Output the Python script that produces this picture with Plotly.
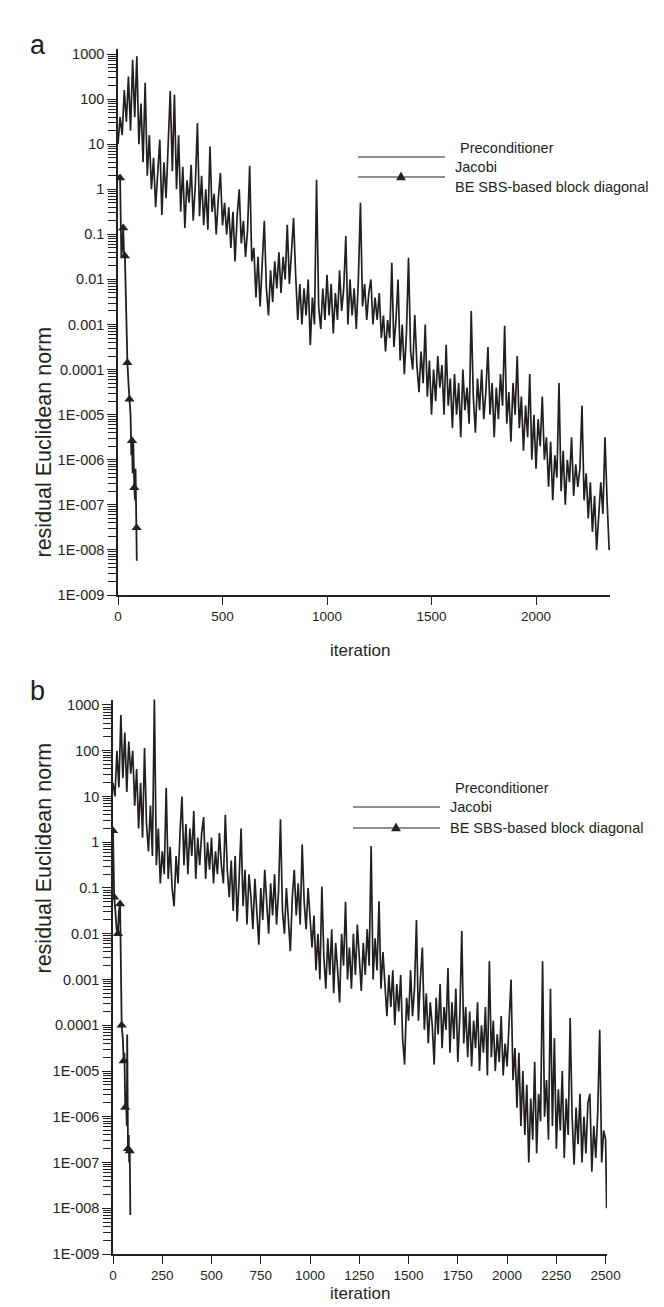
import plotly.graph_objects as go

# ---- data (residual norm given as log10) ----
y_tick_vals = [1e-9, 1e-8, 1e-7, 1e-6, 1e-5, 1e-4, 1e-3, 1e-2, 1e-1, 1, 10, 100, 1000]
y_tick_labels = ["1E-009", "1E-008", "1E-007", "1E-006", "1E-005", "0.0001", "0.001",
                 "0.01", "0.1", "1", "10", "100", "1000"]
x_ticks_a = [0, 500, 1000, 1500, 2000]
x_ticks_b = [0, 250, 500, 750, 1000, 1250, 1500, 1750, 2000, 2250, 2500]

# panel a, Jacobi, one value every 10 iterations
jacobi_a_iter = list(range(0, 2360, 10))
jacobi_a_log10 = [
    1.0, 1.6, 1.2, 2.2, 1.5, 2.5, 1.3, 2.87, 1.6, 2.95,            # 0
    1.0, 1.9, 0.6, 2.36, 0.3, 1.2, 0.0, 0.7, -0.4, 0.5,            # 100
    1.1, -0.57, 0.6, -0.2, 0.9, 2.18, 0.4, 2.1, 0.0, 1.2,          # 200
    -0.5, 0.5, -0.86, 0.2, -0.3, 0.54, -0.7, 0.1, 1.47, -0.6,      # 300
    0.3, -0.8, 0.0, -0.9, 0.95, -0.5, -0.1, -1.0, -0.2, 0.36,      # 400
    -0.8, -0.3, -1.0, -0.4, -1.3, -0.5, -1.6, -0.6, 0.0, -1.2,     # 500
    -0.7, -1.5, -0.9, 0.52, -1.6, -1.3, -2.4, -1.5, -2.6, -1.7,    # 600
    -0.7, -2.2, -2.8, -1.8, -2.5, -1.6, -2.2, -1.4, -2.3, -1.5,    # 700
    -2.0, -0.79, -2.1, -1.4, -0.64, -1.9, -2.9, -2.1, -3.0, -2.2,  # 800
    -2.8, -2.0, -3.46, -2.4, -3.0, 0.21, -2.6, -3.1, -2.2, -2.9,   # 900
    -1.9, -2.8, -2.1, -3.2, -2.3, -2.9, -1.8, -2.7, -2.2, -1.04,   # 1000
    -3.0, -2.0, -2.8, -2.2, -3.1, -2.0, -0.3, -2.6, -2.1, -2.9,    # 1100
    -2.3, -2.0, -3.0, -2.4, -2.9, -2.3, -3.3, -2.8, -3.6, -2.9,    # 1200
    -3.3, -1.63, -3.5, -2.9, -2.0, -3.8, -3.0, -4.1, -3.2, -1.52,  # 1300
    -3.6, -4.0, -2.79, -3.9, -4.5, -3.6, -4.3, -3.0, -4.6, -3.8,   # 1400
    -5.0, -4.0, -4.7, -3.7, -4.4, -3.9, -5.0, -3.45, -4.8, -4.2,   # 1500
    -5.3, -4.1, -5.0, -4.3, -5.5, -4.0, -4.9, -4.4, -5.2, -2.7,    # 1600
    -4.6, -5.4, -4.2, -4.9, -4.0, -5.1, -4.5, -3.5, -5.0, -4.3,    # 1700
    -5.5, -4.4, -5.1, -4.1, -4.8, -3.03, -5.2, -4.5, -5.6, -4.3,   # 1800
    -5.0, -3.7, -5.3, -4.6, -5.8, -4.8, -5.5, -4.1, -6.0, -5.0,    # 1900
    -6.2, -5.1, -5.7, -4.6, -6.0, -5.5, -6.6, -5.6, -6.9, -5.9,    # 2000
    -6.4, -4.3, -6.7, -5.8, -7.0, -6.0, -6.5, -5.5, -6.8, -6.1,    # 2100
    -6.6, -6.2, -4.8, -6.9, -6.3, -7.3, -6.5, -7.6, -6.8, -8.0,    # 2200
    -7.1, -6.5, -7.2, -5.5, -6.9, -8.0,                            # 2300
]

# panel a, BE SBS-based block diagonal
be_a_iter = [0, 10, 16, 20, 25, 29, 33, 38, 42, 45, 50, 55, 60, 64, 67, 70, 73, 78, 82, 84, 86, 89, 90]
be_a_log10 = [0.3, 0.25, -1.5, -1.3, -0.86, -1.45, -1.48, -2.6, -3.2, -3.85, -4.3, -4.66,
              -5.0, -5.9, -5.58, -6.3, -5.6, -6.62, -6.9, -6.2, -7.0, -7.51, -8.24]
be_a_marked = [1, 4, 6, 9, 11, 14, 17, 21]

# panel b, Jacobi, one value every 10 iterations
jacobi_b_iter = list(range(0, 2510, 10)) + [2505]
jacobi_b_log10 = [
    1.3, 1.0, 2.0, 1.2, 2.78, 1.4, 2.4, 1.1, 2.2, 1.5,             # 0
    2.0, 0.8, 1.6, 0.3, 1.3, 0.1, 2.06, 0.4, -0.2, 0.8,            # 100
    -0.3, 3.15, -0.5, 0.3, -0.9, -0.2, -0.7, 1.19, -0.8, -0.1,     # 200
    -1.0, -1.4, -0.3, -0.9, 0.2, 1.0, -0.5, 0.4, -0.7, 0.3,        # 300
    -0.3, 0.68, -0.8, 0.1, -0.5, 0.2, 0.55, -0.8, 0.0, -0.6,       # 400
    0.1, -0.9, -0.2, -0.7, 0.2, -0.5, -0.9, 0.6, -0.6, -1.2,       # 500
    -0.4, -1.5, -0.3, -1.73, -0.8, 0.3, -1.4, -0.6, -1.8, -0.7,    # 600
    -1.2, -1.9, -0.8, -1.5, -2.24, -1.0, -1.7, -0.6, -1.4, -2.0,   # 700
    -0.9, -1.6, -0.7, -1.8, -1.1, 0.5, -1.5, -2.0, -1.0, -1.7,     # 800
    -2.38, -1.2, -0.6, -1.6, -0.9, -1.8, -0.05, -1.3, -1.9, -1.0,  # 900
    -1.7, -2.3, -1.6, -2.8, -2.0, -3.0, -0.97, -2.5, -3.2, -2.1,   # 1000
    -2.9, -1.9, -3.3, -2.2, -2.8, -3.5, -2.0, -2.7, -1.3, -3.0,    # 1100
    -2.3, -3.2, -2.0, -2.9, -1.8, -2.6, -3.25, -2.2, -2.9, -1.9,   # 1200
    -2.7, -0.08, -3.0, -2.1, -2.8, -1.29, -3.2, -2.4, -3.0, -3.8,  # 1300
    -2.9, -3.6, -2.8, -4.0, -3.1, -3.7, -2.9, -4.3, -4.86, -3.4,   # 1400
    -3.9, -2.8, -3.8, -3.2, -1.7, -3.9, -3.0, -2.3, -4.1, -3.3,    # 1500
    -4.4, -3.5, -4.0, -4.86, -3.4, -4.2, -3.1, -4.5, -3.6, -4.1,   # 1600
    -2.75, -4.6, -3.5, -4.3, -3.2, -4.8, -3.8, -1.94, -4.4, -3.6,  # 1700
    -4.7, -3.7, -4.9, -3.9, -4.5, -3.5, -5.0, -4.0, -4.6, -3.6,    # 1800
    -5.1, -2.6, -4.7, -3.9, -5.0, -4.2, -4.8, -3.8, -5.1, -4.4,    # 1900
    -4.9, -4.0, -3.0, -5.2, -4.5, -5.8, -4.6, -6.2, -5.0, -6.4,    # 2000
    -5.3, -7.0, -5.6, -6.5, -4.8, -6.8, -5.5, -6.1, -2.6, -6.0,    # 2100
    -5.2, -6.5, -3.2, -6.2, -4.28, -6.7, -5.4, -6.3, -5.0, -6.9,   # 2200
    -5.6, -6.4, -3.84, -6.0, -7.05, -5.8, -6.6, -5.5, -7.0, -6.0,  # 2300
    -6.8, -5.7, -5.5, -7.2, -6.2, -6.9, -5.9, -4.1, -7.0, -6.3,    # 2400
    -6.5, -8.0,                                                    # 2500, 2505
]

# panel b, BE SBS-based block diagonal
be_b_iter = [0, 3, 6, 12, 18, 25, 30, 36, 40, 44, 50, 54, 58, 62, 66, 70, 72, 74, 76, 80, 82, 85, 88]
be_b_log10 = [0.25, -0.8, -1.2, -1.5, -1.9, -2.0, -1.5, -1.35, -2.5, -4.0, -4.3, -4.78,
              -4.6, -5.8, -5.5, -6.2, -4.2, -6.6, -6.7, -6.4, -7.0, -6.75, -8.15]
be_b_marked = [0, 2, 5, 7, 9, 11, 13, 18, 21]

INK = "#231f20"
FONT = "Liberation Sans, Arial, sans-serif"
W, H = 664, 1307


def fx(px):
    return px / W


def fy(py):
    return 1 - py / H


def pow10(vals):
    return [10 ** v for v in vals]


fig = go.Figure()

panels = [
    ("x", "y", jacobi_a_iter, jacobi_a_log10, be_a_iter, be_a_log10, be_a_marked),
    ("x2", "y2", jacobi_b_iter, jacobi_b_log10, be_b_iter, be_b_log10, be_b_marked),
]
for xr, yr, ji, jv, bi, bv, bm in panels:
    fig.add_trace(go.Scatter(x=ji, y=pow10(jv), mode="lines", xaxis=xr, yaxis=yr,
                             line=dict(color=INK, width=1.7), showlegend=False))
    fig.add_trace(go.Scatter(x=bi, y=pow10(bv), mode="lines", xaxis=xr, yaxis=yr,
                             line=dict(color=INK, width=1.8), showlegend=False))
    fig.add_trace(go.Scatter(x=[bi[k] for k in bm], y=pow10([bv[k] for k in bm]),
                             mode="markers", xaxis=xr, yaxis=yr, showlegend=False,
                             marker=dict(symbol="triangle-up", size=9, color=INK)))

minor_vals = [m * 10 ** e for e in range(-9, 3) for m in range(2, 10)]

yax = dict(type="log", range=[-9, 3.12], tickmode="array", tickvals=y_tick_vals,
           ticktext=y_tick_labels, ticks="outside", ticklen=9, tickwidth=1, tickcolor=INK,
           minor=dict(tickmode="array", tickvals=minor_vals, ticks="outside", ticklen=8,
                      tickwidth=1, tickcolor=INK),
           showline=True, linecolor=INK, linewidth=1.5, showgrid=False, zeroline=False,
           tickfont=dict(family=FONT, size=14.5, color=INK))
xax = dict(ticks="outside", ticklen=8, tickwidth=1.2, tickcolor=INK, showline=True,
           linecolor=INK, linewidth=1.8, showgrid=False, zeroline=False,
           tickfont=dict(family=FONT, size=13.5, color=INK))

fig.update_layout(
    width=W, height=H, margin=dict(l=0, r=0, t=0, b=0, autoexpand=False),
    paper_bgcolor="white", plot_bgcolor="white",
    xaxis=dict(xax, domain=[fx(110), fx(602)], range=[0, 2354], tickvals=x_ticks_a, anchor="y"),
    yaxis=dict(yax, domain=[fy(587), fy(40.6)], anchor="x"),
    xaxis2=dict(xax, domain=[fx(105), fx(599)], range=[0, 2507], tickvals=x_ticks_b, anchor="y2"),
    yaxis2=dict(yax, domain=[fy(1246), fy(691.5)], anchor="x2"),
)

ann = []
shapes = []


def txt(s, x, y, size, **kw):
    ann.append(dict(text=s, x=fx(x), y=fy(y), xref="paper", yref="paper", showarrow=False,
                    font=dict(family=FONT, size=size, color=INK), **kw))


# panel letters and axis titles
txt("a", 20, 20, 27)
txt("b", 20, 683, 27)
txt("residual Euclidean norm", 21, 317, 21.5, textangle=-90)
txt("residual Euclidean norm", 21, 968, 21.5, textangle=-90)
txt("iteration", 352, 643, 17)
txt("iteration", 352, 1297, 17)

# hand-drawn legends
for (tx, ty, lx0, lx1, mx, y1, y2) in [(450, 130, 350, 437, 393, 149, 169),
                                       (445, 780, 345, 432, 388, 799, 820)]:
    txt("Preconditioner", tx, ty, 14.5, xanchor="left")
    txt("Jacobi", lx1 + 8, y1, 14.5, xanchor="left")
    txt("BE SBS-based block diagonal", lx1 + 8, y2, 14.5, xanchor="left")
    for yy in (y1, y2):
        shapes.append(dict(type="line", xref="paper", yref="paper", x0=fx(lx0), x1=fx(lx1),
                           y0=fy(yy), y1=fy(yy), line=dict(color=INK, width=1.2)))
    path = "M {} {} L {} {} L {} {} Z".format(fx(mx - 4.5), fy(y2 + 3), fx(mx + 4.5), fy(y2 + 3),
                                             fx(mx), fy(y2 - 5))
    shapes.append(dict(type="path", xref="paper", yref="paper", path=path,
                       fillcolor=INK, line=dict(color=INK, width=0.5)))

fig.update_layout(annotations=ann, shapes=shapes)

fig.write_html("out.html")
